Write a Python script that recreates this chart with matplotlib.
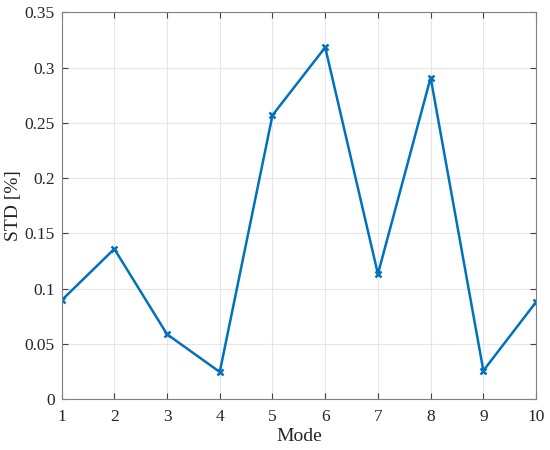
import matplotlib
matplotlib.use("Agg")
import matplotlib.pyplot as plt

# data
modes = [1, 2, 3, 4, 5, 6, 7, 8, 9, 10]
std_vals = [0.0895, 0.136, 0.0588, 0.0247, 0.2569, 0.3183, 0.1133, 0.2909, 0.0259, 0.088]

plt.rcParams["font.family"] = ["Liberation Serif", "DejaVu Serif"]

fig = plt.figure(figsize=(5.5, 4.5), dpi=100)
ax = fig.add_axes([0.112, 0.1127, 0.8627, 0.86])

ax.plot(modes, std_vals, color="#0072BD", linewidth=1.8, marker="x",
        markersize=5, markeredgewidth=1.8)

ax.set_xlim(1, 10)
ax.set_ylim(0, 0.35)
ax.set_xticks(modes)
ax.set_yticks([0, 0.05, 0.1, 0.15, 0.2, 0.25, 0.3, 0.35])
ax.set_yticklabels(["0", "0.05", "0.1", "0.15", "0.2", "0.25", "0.3", "0.35"])

ax.grid(True, color="#e6e6e6", linewidth=0.8)
ax.set_axisbelow(True)
for s in ax.spines.values():
    s.set_color("#808080")
    s.set_linewidth(0.8)
ax.tick_params(direction="in", top=True, right=True, length=4,
               color="#404040", labelsize=12.5, labelcolor="#262626")
ax.tick_params(axis="x", pad=7)
ax.tick_params(axis="y", pad=5)

ax.set_xlabel("Mode", fontsize=14, color="#262626", labelpad=2.5)
ax.set_ylabel("STD [%]", fontsize=14, color="#262626", labelpad=1.5)

fig.savefig("out.png", dpi=100)
